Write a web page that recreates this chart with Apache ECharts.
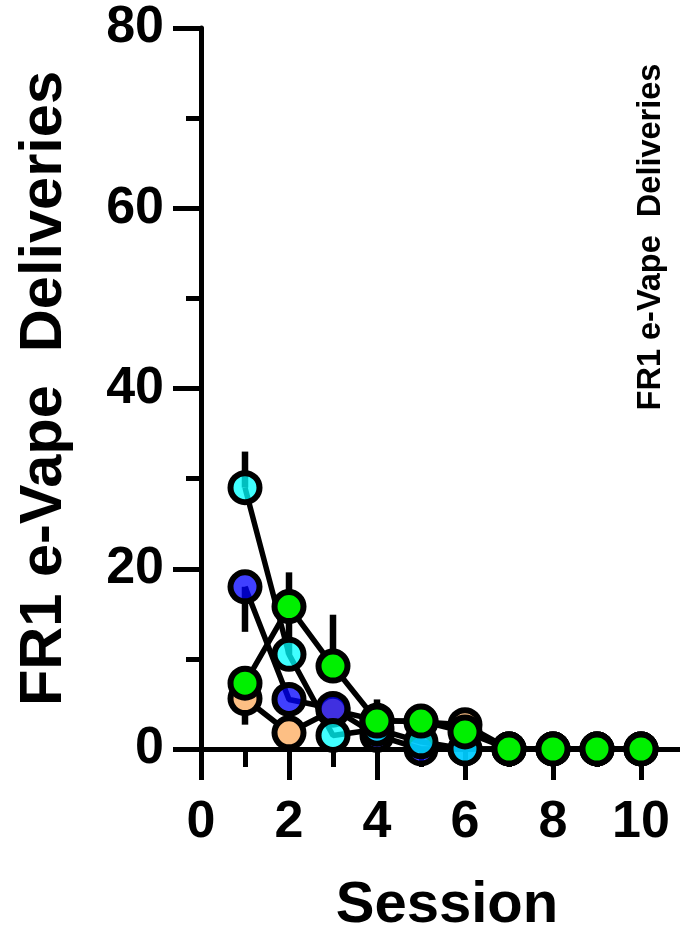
<!DOCTYPE html>
<html>
<head>
<meta charset="utf-8">
<script src="https://cdn.jsdelivr.net/npm/echarts@6/dist/echarts.min.js"></script>
<style>
html,body{margin:0;padding:0;background:#fff;}
#c{width:680px;height:936px;}
</style>
</head>
<body>
<div id="c"></div>
<script>
// ---- data ----
const sessions = [1, 2, 3, 4, 5, 6, 7, 8, 9, 10];
const peach = [5.6, 1.8, 4.3, 3.2, 3.0, 2.7, 0, 0, 0, 0];
const blue  = [18.0, 5.5, 4.5, 1.5, 0, 0, 0, 0, 0, 0];
const cyan  = [29.0, 10.5, 1.5, 2.2, 0.8, 0, 0, 0, 0, 0];
const green = [7.3, 15.8, 9.2, 3.1, 3.1, 1.9, 0, 0, 0, 0];
// error bar end values (one-sided), null = none visible
const peachErr = [2.7, null, null, null, null, null, null, null, null, null];
const blueErr  = [13.0, null, null, null, null, null, null, null, null, null];
const cyanErr  = [33.0, 14.0, null, null, null, null, null, null, null, null];
const greenErr = [null, 19.6, 14.9, 5.5, null, null, null, null, null, null];
const yTicks = [0, 20, 40, 60, 80];
const xTicks = [0, 2, 4, 6, 8, 10];
const yTitle = 'FR1 e-Vape  Deliveries';
const xTitle = 'Session';

const FONT = 'Arial, "Liberation Sans", Helvetica, sans-serif';

function pts(vals) { return sessions.map((s, i) => [s, vals[i]]); }
function errPts(vals, errs) {
  const out = [];
  sessions.forEach((s, i) => { if (errs[i] !== null) out.push([s, vals[i], errs[i]]); });
  return out;
}
const allErr = [].concat(errPts(peach, peachErr), errPts(blue, blueErr), errPts(cyan, cyanErr), errPts(green, greenErr));

function lineSeries(name, vals, fill) {
  return {
    name: name, type: 'line', data: pts(vals), xAxisIndex: 0, yAxisIndex: 0,
    symbol: 'circle', symbolSize: 29, showSymbol: true, clip: false,
    lineStyle: { color: '#000', width: 5.5 },
    itemStyle: { color: fill, borderColor: '#000', borderWidth: 6 },
    emphasis: { disabled: true }, z: 3
  };
}

const chart = echarts.init(document.getElementById('c'), null, { renderer: 'canvas' });
chart.setOption({
  animation: false,
  backgroundColor: '#fff',
  grid: { left: 201, top: 28, height: 721, width: 484, containLabel: false, outerBoundsMode: 'none' },
  xAxis: [{
    type: 'value', min: 0, max: 11, interval: 2,
    axisLine: { show: true, onZero: false, lineStyle: { color: '#000', width: 5 } },
    axisTick: { show: true, length: 31, lineStyle: { color: '#000', width: 5 } },
    splitLine: { show: false },
    axisLabel: {
      margin: 48, fontSize: 52, fontWeight: 'bold', color: '#000', fontFamily: FONT,
      formatter: v => (xTicks.indexOf(v) >= 0 ? String(v) : '')
    },
    name: xTitle, nameLocation: 'middle', nameGap: 128,
    nameTextStyle: { fontSize: 58, fontWeight: 'bold', color: '#000', fontFamily: FONT, padding: [0, 0, 0, 8] }
  }, {
    type: 'value', min: 0, max: 11, interval: 1, position: 'bottom',
    axisLine: { show: false },
    axisTick: { show: true, length: 18, lineStyle: { color: '#000', width: 5 } },
    axisLabel: { show: false }, splitLine: { show: false }
  }],
  yAxis: {
    type: 'value', min: 0, max: 80, interval: 20,
    axisLine: { show: true, lineStyle: { color: '#000', width: 5 } },
    axisTick: { show: true, length: 28, lineStyle: { color: '#000', width: 5 } },
    minorTick: { show: true, splitNumber: 2, length: 15, lineStyle: { color: '#000', width: 5 } },
    splitLine: { show: false },
    axisLabel: {
      margin: 37, fontSize: 52, fontWeight: 'bold', color: '#000', fontFamily: FONT,
      formatter: v => (yTicks.indexOf(v) >= 0 ? String(v) : '')
    },
    name: yTitle, nameLocation: 'middle', nameGap: 126, nameRotate: 90,
    nameTextStyle: { fontSize: 59.5, fontWeight: 'bold', color: '#000', fontFamily: FONT }
  },
  graphic: [{
    type: 'text', x: 651, y: 237, rotation: Math.PI / 2,
    style: { text: yTitle, fill: '#000', font: 'bold 32.5px ' + FONT, textAlign: 'center', textVerticalAlign: 'middle' }
  }],
  series: [
    {
      type: 'custom', data: allErr, xAxisIndex: 0, yAxisIndex: 0, z: 2, clip: false,
      renderItem: function (params, api) {
        const a = api.coord([api.value(0), api.value(1)]);
        const b = api.coord([api.value(0), api.value(2)]);
        return { type: 'line', shape: { x1: a[0], y1: a[1], x2: b[0], y2: b[1] },
                 style: { stroke: '#000', lineWidth: 6.5 } };
      }
    },
    lineSeries('peach', peach, '#FDBF84'),
    lineSeries('blue', blue, 'rgba(0,0,255,0.75)'),
    lineSeries('cyan', cyan, 'rgba(0,255,255,0.75)'),
    lineSeries('green', green, '#00F000')
  ]
});
</script>
</body>
</html>
